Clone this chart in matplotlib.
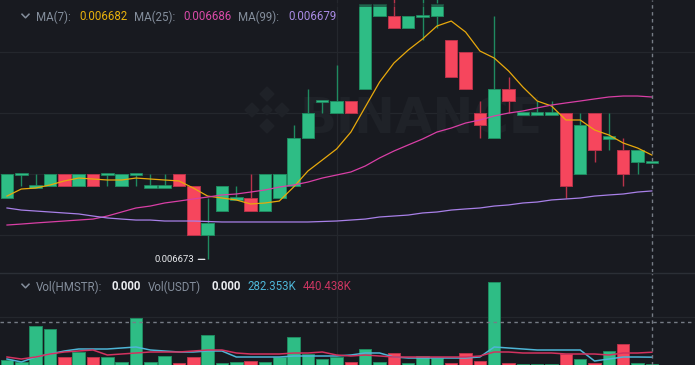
import numpy as np
import matplotlib
matplotlib.use("Agg")
import matplotlib.pyplot as plt
from matplotlib.lines import Line2D
from matplotlib.patches import Rectangle, Polygon

# ---------------- data (price in units of 1e-6 USDT) ----------------
opens  = [6678, 6680, 6679, 6679, 6680, 6679, 6680, 6680, 6679, 6680, 6679, 6679, 6680, 6679,
          6675, 6677, 6678, 6678, 6677, 6678, 6679, 6683, 6686, 6685, 6686, 6687, 6693, 6693,
          6692, 6693, 6693, 6691, 6690, 6685, 6683, 6687, 6685, 6685, 6685, 6685, 6680, 6685,
          6683, 6682, 6681, 6681]
highs  = [6680, 6680, 6680, 6680, 6680, 6680, 6680, 6680, 6680, 6680, 6680, 6680, 6680, 6679,
          6678, 6679, 6679, 6680, 6680, 6680, 6684, 6687, 6686, 6689, 6686, 6694, 6694, 6695,
          6693, 6695, 6695, 6691, 6690, 6686, 6693, 6688, 6685, 6686, 6686, 6685, 6685, 6685,
          6685, 6683, 6682, 6681]
lows   = [6678, 6679, 6679, 6679, 6679, 6679, 6679, 6679, 6679, 6679, 6679, 6679, 6679, 6675,
          6673, 6677, 6678, 6677, 6677, 6678, 6679, 6683, 6685, 6685, 6685, 6687, 6693, 6692,
          6692, 6691, 6692, 6688, 6687, 6683, 6683, 6685, 6685, 6685, 6685, 6678, 6680, 6681,
          6682, 6679, 6680, 6681]
closes = [6680, 6680, 6679, 6680, 6679, 6680, 6679, 6680, 6680, 6680, 6679, 6679, 6679, 6675,
          6676, 6679, 6678, 6677, 6680, 6680, 6683, 6685, 6686, 6686, 6685, 6694, 6694, 6692,
          6693, 6693, 6694, 6688, 6687, 6684, 6687, 6686, 6685, 6685, 6685, 6679, 6684, 6682,
          6683, 6680, 6682, 6681]

ma7  = [6678.20, 6678.78, 6678.86, 6679.11, 6679.44, 6679.68, 6679.60, 6679.52, 6679.52, 6679.68,
        6679.60, 6679.52, 6679.44, 6678.86, 6678.20, 6678.04, 6677.88, 6677.55, 6677.63, 6677.79,
        6678.94, 6680.26, 6681.16, 6682.07, 6683.46, 6685.52, 6687.57, 6689.13, 6690.20, 6691.11,
        6692.17, 6692.58, 6691.68, 6690.12, 6689.54, 6688.48, 6687.16, 6686.01, 6685.60, 6684.45,
        6684.45, 6683.63, 6683.22, 6682.56, 6682.15, 6681.57]
ma25 = [6675.82, 6675.90, 6675.99, 6676.07, 6676.15, 6676.23, 6676.31, 6676.56, 6676.89, 6677.22,
        6677.38, 6677.63, 6677.79, 6677.96, 6678.12, 6678.29, 6678.37, 6678.53, 6678.70, 6678.94,
        6679.11, 6679.35, 6679.68, 6679.93, 6680.18, 6680.67, 6681.33, 6681.90, 6682.40, 6682.89,
        6683.46, 6683.79, 6684.20, 6684.45, 6684.78, 6685.02, 6685.19, 6685.44, 6685.68, 6685.85,
        6686.01, 6686.18, 6686.34, 6686.42, 6686.42, 6686.34]
ma99 = [6677.22, 6677.05, 6676.97, 6676.89, 6676.81, 6676.73, 6676.56, 6676.40, 6676.31, 6676.23,
        6676.23, 6676.15, 6676.15, 6676.15, 6676.11, 6676.07, 6676.07, 6676.07, 6676.07, 6676.07,
        6676.07, 6676.07, 6676.11, 6676.15, 6676.23, 6676.31, 6676.48, 6676.56, 6676.64, 6676.81,
        6676.89, 6677.05, 6677.14, 6677.22, 6677.38, 6677.47, 6677.63, 6677.71, 6677.88, 6677.96,
        6678.04, 6678.20, 6678.29, 6678.37, 6678.53, 6678.62]

# volume in thousands
volume = [192, 128, 1280, 1184, 288, 448, 288, 288, 128, 1536, 128, 320, 96, 288, 992, 96,
          128, 160, 128, 288, 928, 384, 224, 288, 128, 544, 128, 416, 96, 336, 256, 96, 416,
          160, 2688, 96, 64, 64, 64, 384, 224, 96, 480, 704, 96, 64]
vol_ma_a = [224, 128, 288, 384, 480, 544, 544, 544, 576, 608, 512, 480, 448, 448, 480, 480,
            288, 288, 288, 288, 320, 320, 320, 320, 352, 416, 416, 288, 256, 256, 256, 256,
            256, 288, 608, 576, 544, 512, 512, 512, 512, 160, 224, 288, 288, 282.353]
vol_ma_b = [288, 224, 288, 384, 448, 480, 512, 352, 384, 416, 448, 448, 448, 480, 512, 512,
            416, 384, 384, 384, 416, 416, 448, 352, 320, 352, 320, 288, 288, 288, 288, 288,
            288, 320, 448, 448, 416, 416, 416, 384, 384, 384, 352, 416, 416, 440.438]

low_label = "0.006673"
legend_labels = ["MA(7):", "MA(25):", "MA(99):"]
legend_vals = ["0.006682", "0.006686", "0.006679"]
vol_labels = ["Vol(HMSTR):", "Vol(USDT)"]
vol_vals = ["0.000", "0.000", "282.353K", "440.438K"]

# ---------------- style ----------------
BG = "#181a20"
GREEN = "#2ebd85"
RED = "#f6465d"
GREEN_E = "#1f8a60"
RED_E = "#b8334a"
GRID = "#24272d"
GRAY = "#848e9c"
W, H = 695, 365
FAM = ["Roboto", "DejaVu Sans"]

fig = plt.figure(figsize=(W / 100, H / 100), dpi=100, facecolor=BG)

def fx(px):
    return px / W

def fy(py):
    return 1 - py / H

ax = fig.add_axes([0, fy(272), 1, 272 / H])
axv = fig.add_axes([0, 0, 1, 92 / H])
for a in (ax, axv):
    a.set_facecolor(BG)
    for s in a.spines.values():
        s.set_visible(False)
    a.set_xticks([])
    a.set_yticks([])
    a.set_xlim(-0.488, 48.01)

scale = 1e-6
o = np.array(opens) * scale
h = np.array(highs) * scale
l = np.array(lows) * scale
c = np.array(closes) * scale
idx = np.arange(len(o))
ax.set_ylim(6671.96 * scale, 6694.31 * scale)

# grid
for g in [6675, 6680, 6685, 6690]:
    ax.axhline(g * scale, color=GRID, lw=0.9, zorder=0)
ax.axvline(23, color=GRID, lw=0.9, zorder=0)
axv.axvline(23, color=GRID, lw=0.9, zorder=0)
axv.axhline(1568, color=GRID, lw=0.9, zorder=0)

# watermark (logo + word)
WM = "#1f2228"
ax.text(0.606, 0.561, "BINANCE", transform=ax.transAxes, ha="center", va="center",
        fontsize=35, fontweight="bold", color=WM, family="DejaVu Sans", zorder=0.5)
for (cx, cy, s) in [(267, 94, 7), (252, 110, 7), (282, 110, 7), (267, 126, 7), (267, 110, 5)]:
    pts = [(fx(cx), fy(cy - s)), (fx(cx + s), fy(cy)), (fx(cx), fy(cy + s)), (fx(cx - s), fy(cy))]
    fig.add_artist(Polygon(pts, closed=True, color=WM, zorder=0.5, transform=fig.transFigure))

up = c >= o
doji = o == c
bw = 0.87
min_h = 0.2 * scale
for i in idx:
    col = GREEN if up[i] else RED
    ecol = GREEN_E if up[i] else RED_E
    ax.vlines(i, l[i], h[i], color=ecol if not doji[i] else GREEN_E, lw=1.0, zorder=2)
    if doji[i]:
        ax.bar(i, min_h, bottom=o[i] - min_h / 2, width=bw, color=GREEN, edgecolor=GREEN_E,
               linewidth=0.5, zorder=3)
    else:
        ax.bar(i, abs(c[i] - o[i]), bottom=min(o[i], c[i]), width=bw, color=col,
               edgecolor=ecol, linewidth=0.7, zorder=3)

ax.plot(idx, np.array(ma7) * scale, color="#e8a90c", lw=0.9, zorder=4)
ax.plot(idx, np.array(ma25) * scale, color="#d93fa6", lw=0.9, zorder=4)
ax.plot(idx, np.array(ma99) * scale, color="#a880e8", lw=0.9, zorder=4)

# header overlay band at top
ax.add_patch(Rectangle((0, 6693.73 * scale), 1, (6694.06 - 6693.73) * scale,
                       transform=ax.get_yaxis_transform(), color=BG, alpha=0.55, zorder=5, lw=0))

# volume
axv.set_ylim(32, 2976)
vcol = [GREEN if u else RED for u in up]
vedge = [GREEN_E if u else RED_E for u in up]
axv.bar(idx, volume, width=bw, color=vcol, edgecolor=vedge, linewidth=0.7, zorder=2)
axv.plot(idx, vol_ma_a, color="#4eb5d6", lw=1.1, zorder=3)
axv.plot(idx, vol_ma_b, color="#d2325f", lw=1.1, zorder=3)

# crosshair
CH = "#767c86"
ax.axvline(45, color=CH, lw=1.0, ls=(0, (2.5, 2.5)), zorder=6)
axv.axvline(45, color=CH, lw=1.0, ls=(0, (2.5, 2.5)), zorder=6)
axv.axhline(1408, color=CH, lw=1.0, ls=(0, (2.5, 2.5)), zorder=6)

# separator line
fig.add_artist(Line2D([0, 1], [fy(272.5), fy(272.5)], color="#2b2f36", lw=1.0))

# low label
ax.annotate("", xy=(14, 6673 * scale), xytext=(13.15, 6673 * scale),
            arrowprops=dict(arrowstyle="-", color="#eaecef", lw=0.9))
ax.text(13.05, 6673 * scale, low_label, ha="right", va="center", fontsize=6.8,
        color="#eaecef", family=FAM, zorder=7)

# chevrons
for yy in (16, 286):
    fig.add_artist(Line2D([fx(22), fx(25.5), fx(29)], [fy(yy - 1.8), fy(yy + 1.8), fy(yy - 1.8)],
                          color=GRAY, lw=1.1))

FS = 8.3
ty = 17
for x0, t, colr in [(36, legend_labels[0], GRAY), (79, legend_vals[0], "#e8b10c"),
                    (134, legend_labels[1], GRAY), (183, legend_vals[1], "#d94aa8"),
                    (238, legend_labels[2], GRAY), (288, legend_vals[2], "#a98be4")]:
    fig.text(fx(x0), fy(ty), t, color=colr, fontsize=FS, va="center", family=FAM)

vy = 287
for x0, t, colr, fw in [(36, vol_labels[0], GRAY, "normal"), (111, vol_vals[0], "#eaecef", "bold"),
                        (148, vol_labels[1], GRAY, "normal"), (211, vol_vals[1], "#eaecef", "bold"),
                        (247, vol_vals[2], "#4eb5d6", "normal"), (303, vol_vals[3], "#c93560", "normal")]:
    fig.text(fx(x0), fy(vy), t, color=colr, fontsize=FS, va="center", family=FAM, fontweight=fw)

fig.savefig("out.png", dpi=100, facecolor=BG)
